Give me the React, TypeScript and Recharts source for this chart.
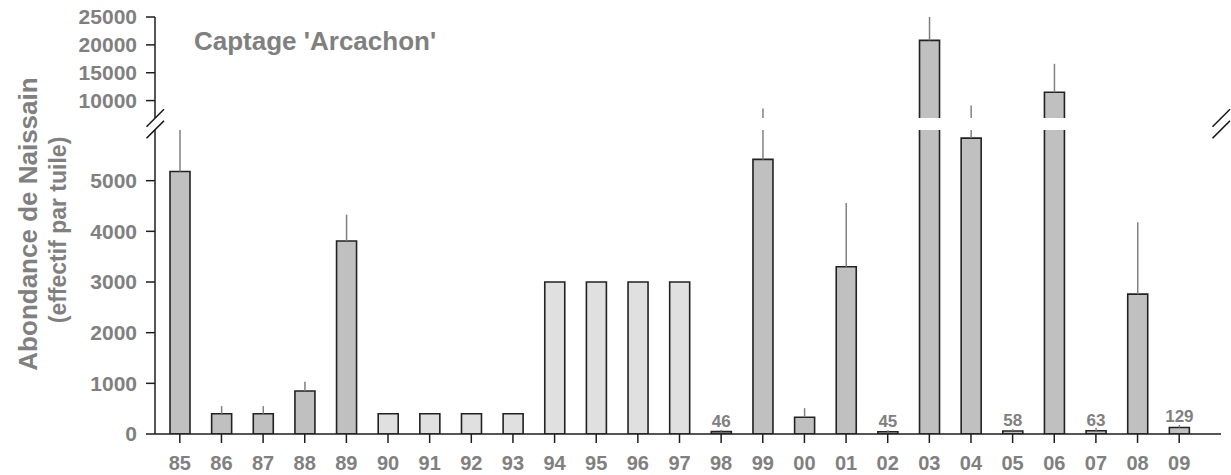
import React from 'react';
import { BarChart, Bar, XAxis, YAxis, ErrorBar, Cell, LabelList } from 'recharts';

// années de captage (1985 -> 2009)
const years = ['85', '86', '87', '88', '89', '90', '91', '92', '93', '94', '95', '96', '97', '98', '99', '00', '01', '02', '03', '04', '05', '06', '07', '08', '09'];
const abundance = [5180, 400, 400, 850, 3810, 400, 400, 400, 400, 3000, 3000, 3000, 3000, 46, 5420, 330, 3300, 45, 20800, 5840, 58, 11500, 63, 2760, 129];
const errorUp = [820, 150, 150, 180, 520, 0, 0, 0, 0, 0, 0, 0, 0, 35, 3140, 180, 1260, 30, 4200, 3260, 40, 5100, 60, 1420, 50];
// 90-97 : pas de données chiffrées (barres claires)
const noData = [false, false, false, false, false, true, true, true, true, true, true, true, true, false, false, false, false, false, false, false, false, false, false, false, false];
const valueLabels = ['', '', '', '', '', '', '', '', '', '', '', '', '', '46', '', '', '', '45', '', '', '58', '', '63', '', '129'];
const upperTicks = [10000, 15000, 20000, 25000];
const lowerTicks = [0, 1000, 2000, 3000, 4000, 5000];

const data = years.map((year, i) => ({
  year,
  value: abundance[i],
  err: [0, errorUp[i]],
  note: valueLabels[i],
}));

const W = 1231;
const FONT = '"Liberation Sans", Arial, Helvetica, sans-serif';
const GREY = '#808080';
const AXIS = '#1e1e1e';
const BREAK_TOP = 118; // bas visible du panneau haut
const BREAK_BOTTOM = 130; // haut du panneau bas

const tickStyle = { fill: GREY, fontSize: 21, fontWeight: 'bold', fontFamily: FONT };
const axisLine = { stroke: AXIS, strokeWidth: 1.5 };
const tickLine = { stroke: AXIS, strokeWidth: 1.5 };
const xPadding = { left: 4, right: 21 };

const renderBars = (withLabels: boolean) => (
  <Bar dataKey="value" barSize={20} stroke="#222" strokeWidth={1.6} isAnimationActive={false}>
    {data.map((d, i) => (
      <Cell key={d.year} fill={noData[i] ? '#e0e0e0' : '#c0c0c0'} />
    ))}
    <ErrorBar dataKey="err" width={0} stroke={GREY} strokeWidth={1.5} direction="y" />
    {withLabels && (
      <LabelList
        dataKey="note"
        content={(p: any) =>
          p.value ? (
            <text
              x={p.x + p.width / 2}
              y={p.y - 5}
              textAnchor="middle"
              fill={GREY}
              fontSize={17}
              fontWeight="bold"
              fontFamily={FONT}
            >
              {p.value}
            </text>
          ) : null
        }
      />
    )}
  </Bar>
);

const BreakMark = ({ x }: { x: number }) => (
  <g stroke="#111" strokeWidth={1.5}>
    <line x1={x - 8.5} y1={126.7} x2={x + 9} y2={109.3} />
    <line x1={x - 8.5} y1={138.3} x2={x + 9} y2={120.7} />
  </g>
);

export default function App() {
  return (
    <div style={{ position: 'absolute', left: 0, top: 0, width: W, height: 475, background: '#fff', fontFamily: FONT }}>
      {/* panneau haut : coupé à 118 px, l'échelle descend un peu plus bas pour cacher la base des barres */}
      <div style={{ position: 'absolute', left: 0, top: 0, width: W, height: BREAK_TOP, overflow: 'hidden' }}>
        <BarChart width={W} height={124} data={data} margin={{ top: 17, right: 10, bottom: 0, left: 0 }} barCategoryGap={0}>
          <XAxis dataKey="year" orientation="top" height={0} tick={false} tickLine={false} axisLine={axisLine} padding={xPadding} />
          <YAxis
            width={155}
            domain={[5800, 25000]}
            ticks={upperTicks}
            interval={0}
            allowDataOverflow
            tick={tickStyle}
            tickLine={tickLine}
            axisLine={axisLine}
            tickSize={9}
            tickMargin={9}
          />
          <YAxis yAxisId="r" orientation="right" width={0} tick={false} tickLine={false} axisLine={axisLine} />
          {renderBars(false)}
        </BarChart>
      </div>

      {/* panneau bas : 0 - 6000 */}
      <div style={{ position: 'absolute', left: 0, top: BREAK_BOTTOM, width: W, height: 475 - BREAK_BOTTOM, overflow: 'hidden' }}>
        <BarChart width={W} height={475 - BREAK_BOTTOM} data={data} margin={{ top: 0, right: 10, bottom: 0, left: 0 }} barCategoryGap={0}>
          <XAxis
            dataKey="year"
            height={41}
            tick={{ ...tickStyle, fontSize: 20 }}
            tickLine={tickLine}
            axisLine={axisLine}
            tickSize={9}
            tickMargin={13}
            interval={0}
            padding={xPadding}
          />
          <YAxis
            width={155}
            domain={[0, 6000]}
            ticks={lowerTicks}
            interval={0}
            allowDataOverflow
            tick={tickStyle}
            tickLine={tickLine}
            axisLine={axisLine}
            tickSize={9}
            tickMargin={9}
          />
          <YAxis yAxisId="r" orientation="right" width={0} tick={false} tickLine={false} axisLine={axisLine} />
          {renderBars(true)}
        </BarChart>
      </div>

      {/* titres et marques de coupure */}
      <svg width={W} height={475} style={{ position: 'absolute', left: 0, top: 0, pointerEvents: 'none' }}>
        <text x={194} y={50} fill={GREY} fontSize={26} fontWeight="bold" fontFamily={FONT}>
          Captage 'Arcachon'
        </text>
        <text
          transform="translate(37,224) rotate(-90)"
          textAnchor="middle"
          fill={GREY}
          fontSize={26}
          fontWeight="bold"
          fontFamily={FONT}
        >
          Abondance de Naissain
        </text>
        <text
          transform="translate(66,230) rotate(-90)"
          textAnchor="middle"
          fill={GREY}
          fontSize={23}
          fontWeight="bold"
          fontFamily={FONT}
        >
          (effectif par tuile)
        </text>
        <BreakMark x={155} />
        <BreakMark x={1221} />
      </svg>
    </div>
  );
}
